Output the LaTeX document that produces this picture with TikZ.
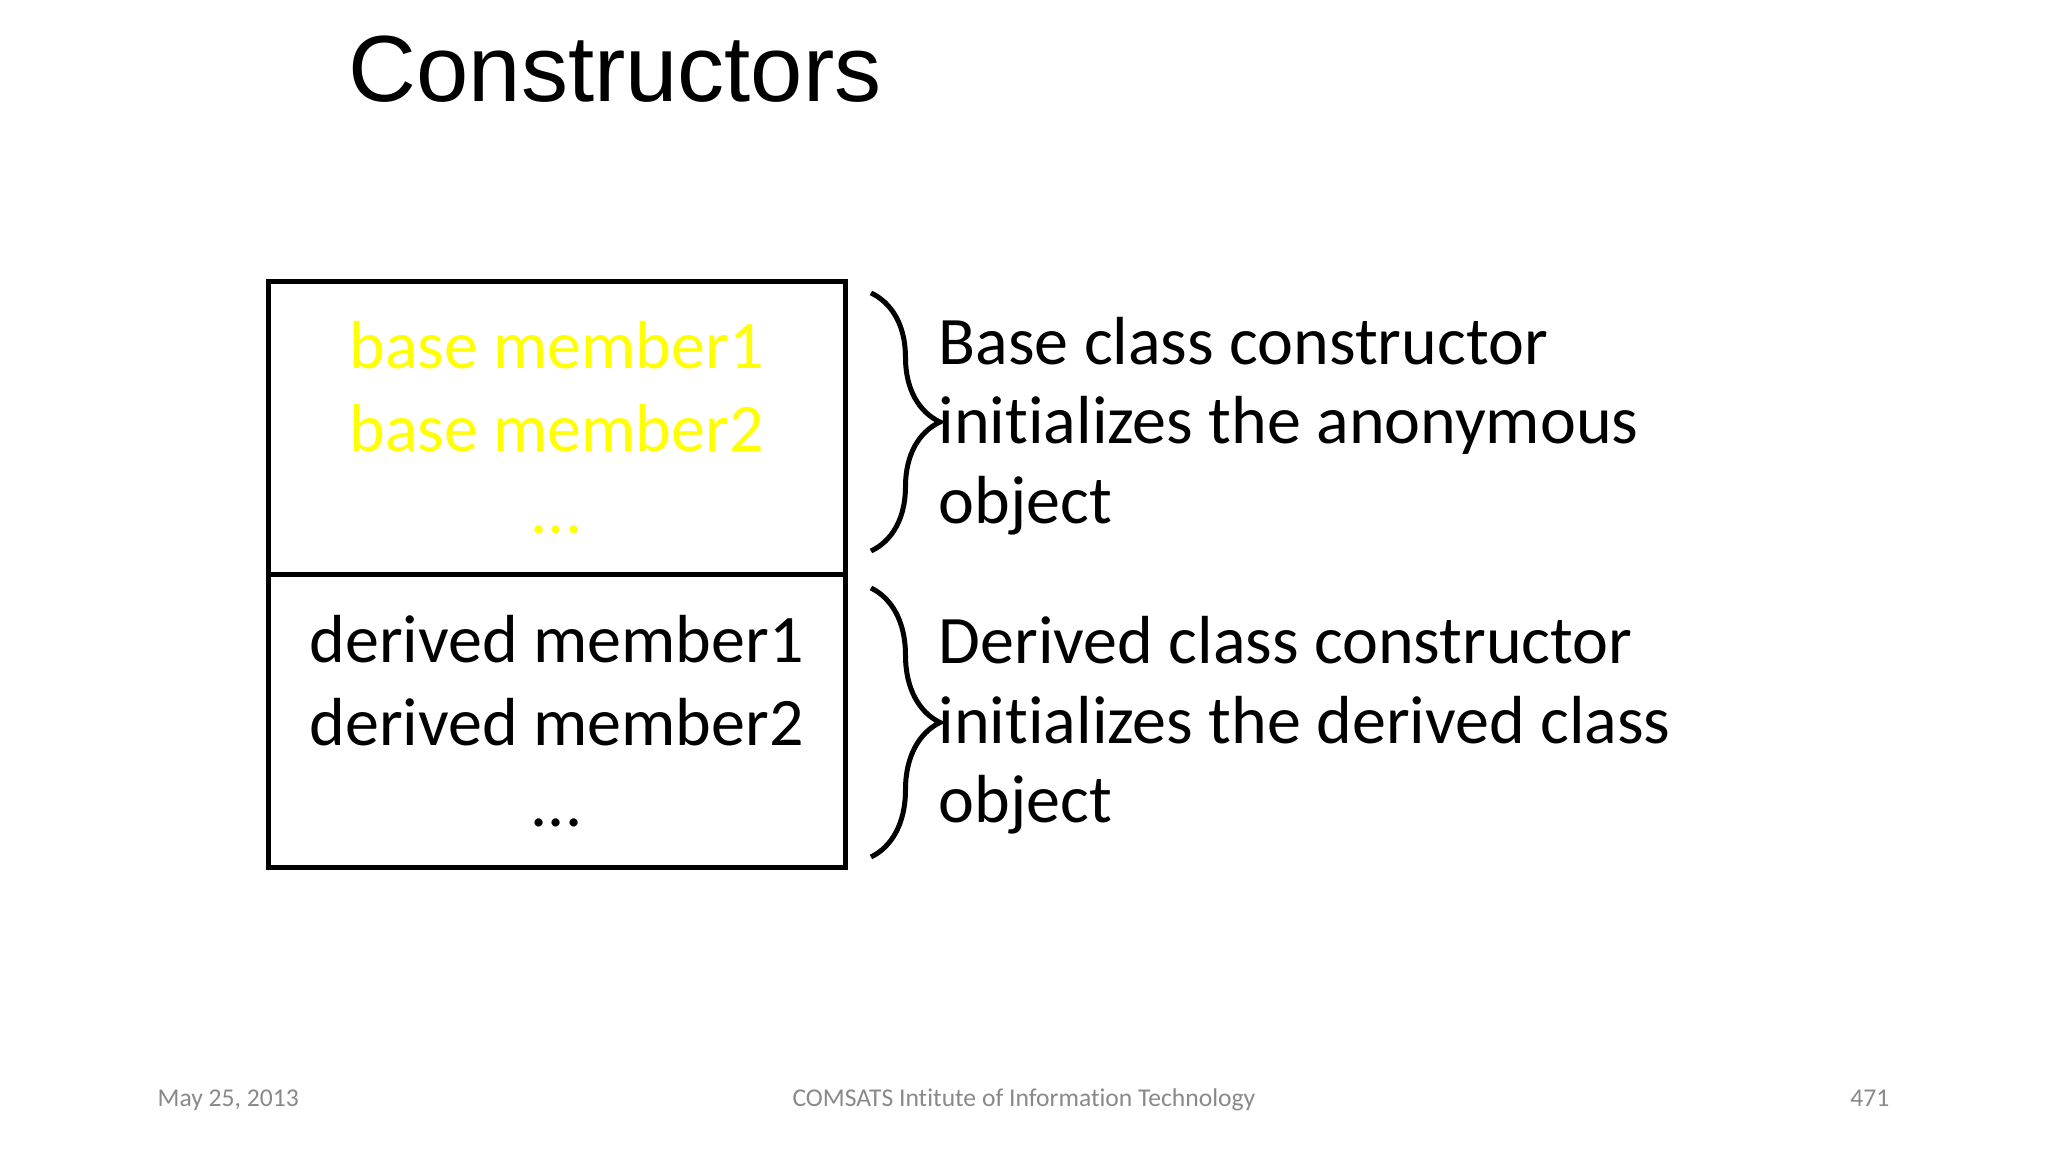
\documentclass[tikz,border=0pt]{standalone}
\usepackage{fontspec}
\setmainfont{Carlito}[Ligatures=NoCommon]
\newfontfamily\titlefont{Liberation Sans}
\usetikzlibrary{positioning,decorations.pathreplacing}

\definecolor{basecol}{RGB}{255,255,0}
\definecolor{footcol}{RGB}{137,137,137}

\begin{document}
\begin{tikzpicture}[
    part/.style={draw, line width=0.05cm, minimum width=5.77cm, minimum height=2.93cm, inner sep=0pt, outer sep=0pt},
    member/.style={align=center, anchor=base, inner sep=0pt, font=\fontsize{0.68cm}{0.82cm}\selectfont},
    note/.style={align=left, anchor=base west, inner sep=0pt, font=\fontsize{0.68cm}{0.80cm}\selectfont},
    curly/.style={decorate, decoration={brace, amplitude=0.69cm}, line width=0.05cm},
    foot/.style={anchor=base, inner sep=0pt, text=footcol, font=\fontsize{0.256cm}{0.30cm}\selectfont}]
  \useasboundingbox[fill=white] (0,0) rectangle (20.48,-11.52);

  % heading
  \node[anchor=base west, inner sep=0pt, font=\titlefont\fontsize{0.94cm}{1.1cm}\selectfont] (title) at (3.48,-1.02) {Constructors};

  % the object, split in two parts
  \node[part] (basepart) at (5.565,-4.285) {};
  \node[part, below=0pt of basepart] (derivedpart) {};
  \node[member, text=basecol] (basetext) at (5.565,-5.33) {base member1\\base member2\\...};
  \node[member] (derivedtext) at (5.565,-8.27) {derived member1\\derived member2\\...};

  % braces and what they say
  \coordinate (basetop) at (8.71,-2.93);
  \coordinate (basebot) at (8.71,-5.51);
  \coordinate (derivedtop) at (8.71,-5.88);
  \coordinate (derivedbot) at (8.71,-8.57);
  \draw[curly] (basetop) -- (basebot);
  \draw[curly] (derivedtop) -- (derivedbot);
  \node[note] (basenote) at (9.38,-5.24) {Base class constructor\\initializes the anonymous\\object};
  \node[note] (derivednote) at (9.38,-8.23) {Derived class constructor\\initializes the derived class\\object};

  % footer
  \node[foot, anchor=base west] (date) at (1.57,-11.06) {May 25, 2013};
  \node[foot] (inst) at (10.24,-11.06) {COMSATS Intitute of Information Technology};
  \node[foot, anchor=base east] (page) at (18.90,-11.06) {471};
\end{tikzpicture}
\end{document}
